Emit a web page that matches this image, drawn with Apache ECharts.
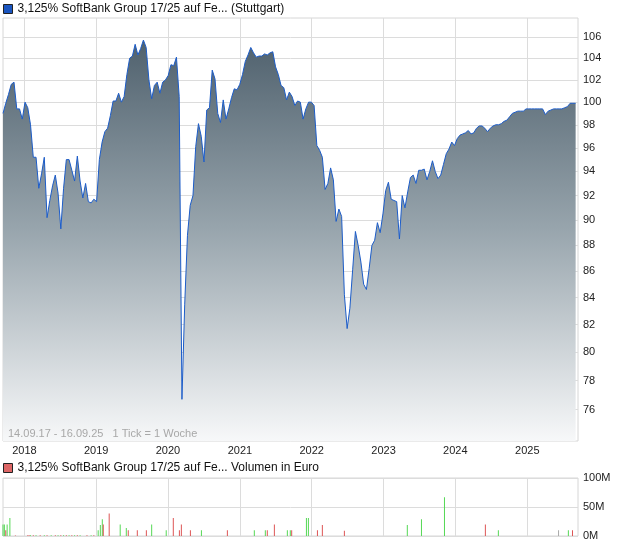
<!DOCTYPE html>
<html><head><meta charset="utf-8">
<script src="https://cdn.jsdelivr.net/npm/echarts@6/dist/echarts.min.js"></script>
<style>html,body{margin:0;padding:0;background:#fff}#c{width:620px;height:546px}</style>
</head><body><div id="c"></div>
<script>
const priceName = '3,125% SoftBank Group 17/25 auf Fe... (Stuttgart)';
const volName = '3,125% SoftBank Group 17/25 auf Fe... Volumen in Euro';
const infoText = '14.09.17 - 16.09.25   1 Tick = 1 Woche';
const rangeStart = '2017-09-14';
const rangeEnd = '2025-09-16';
const priceStepDays = 14;
const priceValues = [
 99.0, 99.9, 100.7, 101.6, 101.8, 99.4, 99.4, 98.5, 100.0, 99.5,
 98.0, 95.2, 95.2, 92.6, 93.8, 95.2, 90.2, 91.6, 92.8, 93.7,
 92.2, 89.3, 92.6, 95.0, 95.0, 94.1, 93.2, 95.3, 93.2, 91.8,
 93.0, 91.5, 91.4, 91.7, 91.5, 95.0, 96.5, 97.4, 97.7, 98.8,
 100.1, 100.1, 100.8, 100.0, 100.5, 102.5, 104.0, 104.2, 105.3, 104.3,
 104.9, 105.7, 105.0, 102.0, 100.3, 101.5, 101.8, 100.8, 101.8, 102.0,
 102.4, 103.4, 103.3, 104.1, 100.5, 76.7, 83.5, 88.8, 91.2, 92.0,
 96.1, 98.1, 97.0, 94.8, 99.3, 99.5, 102.9, 102.1, 99.0, 98.2,
 100.2, 98.5, 99.4, 100.4, 101.2, 101.1, 101.6, 102.5, 103.7, 104.3,
 105.0, 104.5, 104.1, 104.2, 104.2, 104.4, 104.3, 104.5, 104.6, 103.2,
 102.5, 101.5, 101.3, 100.2, 100.9, 100.5, 99.7, 100.1, 100.0, 98.5,
 99.4, 100.0, 100.0, 99.7, 96.2, 95.8, 95.2, 92.5, 93.0, 94.3,
 93.3, 89.9, 90.9, 90.3, 84.2, 81.7, 83.2, 86.1, 89.1, 88.0,
 86.7, 85.0, 84.6, 86.2, 88.0, 88.4, 89.8, 89.0, 90.5, 92.4,
 93.1, 91.7, 91.6, 91.5, 88.5, 92.0, 91.0, 92.3, 93.5, 93.7,
 93.0, 94.1, 94.1, 94.2, 93.3, 94.0, 94.9, 94.0, 93.4, 93.7,
 94.6, 95.5, 95.9, 96.5, 96.2, 96.8, 97.1, 97.2, 97.3, 97.5,
 97.2, 97.3, 97.7, 97.9, 97.9, 97.7, 97.4, 97.7, 97.9, 98.0,
 98.0, 98.1, 98.3, 98.4, 98.7, 99.0, 99.1, 99.2, 99.2, 99.2,
 99.4, 99.4, 99.4, 99.4, 99.4, 99.4, 99.4, 98.9, 99.2, 99.3,
 99.4, 99.4, 99.4, 99.4, 99.5, 99.6, 99.9, 99.9, 99.9
];
const yTicks = [76, 78, 80, 82, 84, 86, 88, 90, 92, 94, 96, 98, 100, 102, 104, 106];
const yMin = 73.9, yMax = 107.8;
const yearTicks = [2018, 2019, 2020, 2021, 2022, 2023, 2024, 2025];
const volDates = [
 '2017-09-14','2017-09-21','2017-09-28','2017-10-05','2017-10-19','2017-11-16',
 '2018-01-18','2018-01-25','2018-02-01','2018-02-15','2018-03-01','2018-03-22','2018-04-12','2018-04-26',
 '2018-05-17','2018-06-07','2018-06-21','2018-07-05','2018-07-19','2018-08-02','2018-08-16','2018-08-30',
 '2018-09-13','2018-09-27','2018-10-11','2018-11-15','2018-12-06','2018-12-20',
 '2019-01-11','2019-01-22','2019-02-01','2019-02-06','2019-03-08','2019-05-03','2019-06-03','2019-06-13',
 '2019-07-29','2019-09-13','2019-10-10','2019-12-23','2020-01-28','2020-02-28','2020-03-09','2020-04-24',
 '2020-06-19','2020-10-29','2021-03-15','2021-05-10','2021-05-20','2021-06-25','2021-08-30','2021-09-14',
 '2021-09-21','2021-12-05','2021-12-15','2022-01-30','2022-02-24','2022-06-16','2023-05-02','2023-07-13',
 '2023-11-07','2024-06-02','2024-08-07','2025-06-09','2025-07-29','2025-08-19'
];
const volValues = [
 20, 20, 10, 20, 31, 1,
 1.5, 1.5, 1.5, 1.5, 1.5, 1.5, 1.5, 1.5,
 1.5, 1.5, 1.5, 1.5, 1.5, 1.5, 1.5, 1.5,
 1.5, 1.5, 1.5, 1.5, 1.5, 1.5,
 10, 19, 29, 20, 39, 20, 14, 10,
 10, 10, 20, 10, 31, 10, 20, 10,
 10, 10, 10, 10, 10, 20, 10, 10,
 10, 31, 31, 10, 19, 9, 19, 29,
 67, 20, 10, 10, 10, 10
];
const volDir = [
 'u','u','d','u','u','d',
 'd','d','u','d','u','d','u','d',
 'u','d','u','d','u','d','u','d',
 'u','d','u','d','u','d',
 'u','u','u','d','d','u','u','d',
 'd','d','u','u','d','d','d','d',
 'u','d','u','u','d','d','u','u',
 'd','u','u','d','d','d','u','u',
 'u','d','u','n','u','d'
];

const FONT = '"Liberation Sans", Arial, sans-serif';
const dirColor = {u: '#55d855', d: '#dd5555', n: '#aaaaaa'};
function toDate(s){ const p = s.split('-').map(Number); return new Date(p[0], p[1]-1, p[2]).getTime(); }
const t0 = toDate(rangeStart);
const t1 = toDate(rangeEnd);
const s0 = rangeStart.split('-').map(Number);
const priceData = priceValues.map((v, i) => [new Date(s0[0], s0[1]-1, s0[2] + priceStepDays*i).getTime(), Math.log(v)]);
const volData = volDates.map((d, i) => ({value: [toDate(d), volValues[i]*1e6], itemStyle: {color: dirColor[volDir[i]]}}));
const yearTs = yearTicks.map(y => new Date(y, 0, 1).getTime());
const lnTicks = yTicks.map(v => Math.log(v));

const chart = echarts.init(document.getElementById('c'), null, {renderer: 'canvas'});
const gridLine = {show: true, lineStyle: {color: '#dcdcdc', width: 1}};
chart.setOption({
  animation: false,
  textStyle: {fontFamily: FONT},
  legend: [
    {data: [priceName], left: 3, top: 3, padding: 0, itemWidth: 9, itemHeight: 9, itemGap: 4, icon: 'rect',
     itemStyle: {color: '#1a55c0', borderColor: '#222', borderWidth: 1},
     textStyle: {fontSize: 12, color: '#111', fontFamily: FONT}, selectedMode: false},
    {data: [volName], left: 3, top: 462, padding: 0, itemWidth: 9, itemHeight: 9, itemGap: 4, icon: 'rect',
     itemStyle: {color: '#dd6666', borderColor: '#222', borderWidth: 1},
     textStyle: {fontSize: 12, color: '#111', fontFamily: FONT}, selectedMode: false}
  ],
  grid: [
    {left: 3, top: 18, width: 575, height: 423, show: true, borderColor: '#d6d6d6', borderWidth: 1, backgroundColor: 'transparent'},
    {left: 3, top: 478, width: 575, height: 58, show: true, borderColor: '#d6d6d6', borderWidth: 1, backgroundColor: 'transparent'}
  ],
  xAxis: [
    {type: 'value', gridIndex: 0, min: t0, max: t1,
     axisLine: {show: false}, axisTick: {show: false, customValues: yearTs},
     axisLabel: {customValues: yearTs, formatter: v => String(new Date(v).getFullYear()), fontSize: 11, color: '#222', margin: 4, fontFamily: FONT},
     splitLine: gridLine},
    {type: 'value', gridIndex: 1, min: t0, max: t1,
     axisLine: {show: false}, axisTick: {show: false, customValues: yearTs},
     axisLabel: {show: false, customValues: yearTs},
     splitLine: gridLine}
  ],
  yAxis: [
    {type: 'value', gridIndex: 0, position: 'right', min: Math.log(yMin), max: Math.log(yMax),
     axisLine: {show: false}, axisTick: {show: false, customValues: lnTicks},
     axisLabel: {customValues: lnTicks, formatter: v => String(Math.round(Math.exp(v))), fontSize: 11, color: '#222', margin: 5, fontFamily: FONT},
     splitLine: gridLine},
    {type: 'value', gridIndex: 1, position: 'right', min: 0, max: 100e6, interval: 50e6,
     axisLine: {show: false}, axisTick: {show: false},
     axisLabel: {formatter: v => (v/1e6) + 'M', fontSize: 11, color: '#222', margin: 5, fontFamily: FONT},
     splitLine: gridLine}
  ],
  graphic: [
    {type: 'text', left: 8, top: 428, z: 100, style: {text: infoText, fill: '#a8a8a8', font: '11px ' + FONT}}
  ],
  series: [
    {name: priceName, type: 'line', xAxisIndex: 0, yAxisIndex: 0, data: priceData, symbol: 'none',
     itemStyle: {color: '#1a55c0'},
     lineStyle: {color: '#1c5cc8', width: 1},
     areaStyle: {origin: 'start', opacity: 1, color: {type: 'linear', x: 0, y: 18, x2: 0, y2: 441, global: true,
       colorStops: [{offset: 0, color: '#475966'}, {offset: 0.5, color: '#98a5ad'}, {offset: 1, color: '#f7f8f9'}]}}},
    {name: volName, type: 'bar', xAxisIndex: 1, yAxisIndex: 1, data: volData, barWidth: 1,
     itemStyle: {color: '#dd6666'}}
  ]
});
</script>
</body></html>
